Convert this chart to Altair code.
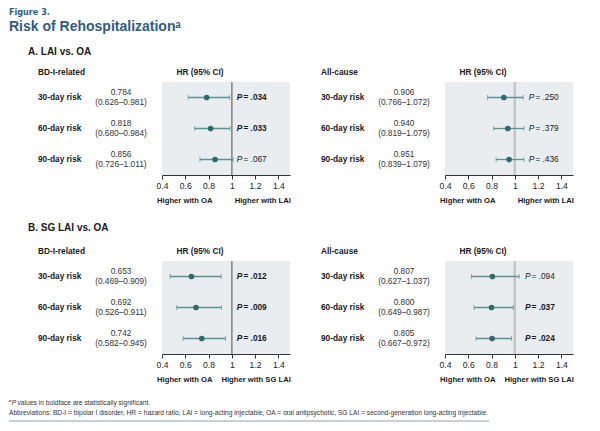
import altair as alt
import pandas as pd

rows = ["30-day risk", "60-day risk", "90-day risk"]
ticks = [0.4, 0.6, 0.8, 1.0, 1.2, 1.4]

# A. LAI vs. OA — BD-I-related
a_bd_hr = [0.784, 0.818, 0.856]
a_bd_lo = [0.626, 0.680, 0.726]
a_bd_hi = [0.981, 0.984, 1.011]
a_bd_p = [".034", ".033", ".067"]
a_bd_sig = [True, True, False]

# A. LAI vs. OA — All-cause
a_all_hr = [0.906, 0.940, 0.951]
a_all_lo = [0.766, 0.819, 0.839]
a_all_hi = [1.072, 1.079, 1.079]
a_all_p = [".250", ".379", ".436"]
a_all_sig = [False, False, False]

# B. SG LAI vs. OA — BD-I-related
b_bd_hr = [0.653, 0.692, 0.742]
b_bd_lo = [0.469, 0.526, 0.582]
b_bd_hi = [0.909, 0.911, 0.945]
b_bd_p = [".012", ".009", ".016"]
b_bd_sig = [True, True, True]

# B. SG LAI vs. OA — All-cause
b_all_hr = [0.807, 0.800, 0.805]
b_all_lo = [0.627, 0.649, 0.667]
b_all_hi = [1.037, 0.987, 0.972]
b_all_p = [".094", ".037", ".024"]
b_all_sig = [False, True, True]

FONT = "Liberation Sans"
BLUE = "#2d5d86"
TEAL = "#2f6b6b"
TEAL_L = "#5e9292"
INK = "#1a1a1a"
W, H = 128, 93
FS = 8.3


def make_df(hr, lo, hi, p, sig):
    return pd.DataFrame({
        "row": rows, "hr": hr, "lo": lo, "hi": hi, "sig": sig,
        "hr_txt": [f"{v:.3f}" for v in hr],
        "ci_txt": [f"({a:.3f}\u2013{b:.3f})" for a, b in zip(lo, hi)],
        "p_txt": [f"= {v}" for v in p],
    })


def label(txt, x, y, size=FS, weight="normal", color=INK, align="left",
          style="normal", font=FONT, baseline="middle"):
    return alt.Chart(pd.DataFrame({"t": [txt]})).mark_text(
        text=txt, fontSize=size, fontWeight=weight, color=color, align=align,
        fontStyle=style, font=font, baseline=baseline,
    ).encode(x=alt.value(x), y=alt.value(y))


xscale = alt.Scale(domain=[0.4, 1.5], nice=False, zero=False)
xaxis = alt.Axis(values=ticks, format=".1~f", title=None,
                 grid=False, labelFont=FONT, labelFontSize=8.6,
                 labelColor="#222", domainColor="#333", tickColor="#333",
                 tickSize=4, labelPadding=2, labelFlush=False,
                 labelOverlap=False)
yenc = alt.Y("row:N", scale=alt.Scale(domain=rows, type="point", padding=0.5),
             axis=None)


def xq(field):
    return alt.X(field, type="quantitative", scale=xscale, axis=xaxis)


def xd(v):
    return alt.datum(v, type="quantitative", scale=xscale, axis=xaxis)


def panel(df, group, right_txt, p_x, ref_color, ref_width, extras):
    base = alt.Chart(df)
    ref = base.mark_rule(color=ref_color, strokeWidth=ref_width).encode(
        x=xd(1.0))
    ci = base.mark_rule(color=TEAL_L, strokeWidth=1.3).encode(
        x=xq("lo"), x2="hi:Q", y=yenc)
    cap_lo = base.mark_tick(color=TEAL_L, size=5, thickness=1).encode(
        x=xq("lo"), y=yenc)
    cap_hi = base.mark_tick(color=TEAL_L, size=5, thickness=1).encode(
        x=xq("hi"), y=yenc)
    pts = base.mark_point(filled=True, size=32, color=TEAL, opacity=1).encode(
        x=xq("hr"), y=yenc)
    row_lbl = base.mark_text(align="left", baseline="middle", fontSize=FS,
                             fontWeight="bold", color=INK, font=FONT).encode(
        x=alt.value(-124), y=yenc, text="row:N")
    hr_t = base.mark_text(align="center", baseline="middle", fontSize=FS,
                          color="#333", dy=-5, font=FONT).encode(
        x=alt.value(-41), y=yenc, text="hr_txt:N")
    ci_t = base.mark_text(align="center", baseline="middle", fontSize=FS,
                          color="#333", dy=5, font=FONT).encode(
        x=alt.value(-41), y=yenc, text="ci_txt:N")
    layers = [ref, ci, cap_lo, cap_hi, pts, row_lbl, hr_t, ci_t]
    for cond, wt in (("datum.sig", "bold"), ("!datum.sig", "normal")):
        sub = base.transform_filter(cond)
        layers.append(sub.mark_text(text="P", align="left", baseline="middle",
                                    fontSize=FS, fontWeight=wt, fontStyle="italic",
                                    color=INK, font=FONT).encode(
            x=xd(p_x), y=yenc))
        layers.append(sub.mark_text(align="left", baseline="middle", dx=6.6,
                                    fontSize=FS, fontWeight=wt, color=INK,
                                    font=FONT).encode(
            x=xd(p_x), y=yenc, text="p_txt:N"))
    layers += [
        label(group, -124, -9, weight="bold"),
        label("HR (95% CI)", 38, -9, weight="bold", align="center"),
        label("Higher with OA", -5, 119, size=7.7, weight="bold"),
        label(right_txt, W + 1, 119, size=7.7, weight="bold", align="right"),
    ]
    layers += extras
    return alt.layer(*layers).properties(width=W, height=H)


header = [
    label("Figure 3.", -153, -74, size=9, weight="bold", color=BLUE,
          font="DejaVu Sans Condensed", baseline="top"),
    label("Risk of Rehospitalization\u1d43", -153, -55, size=14,
          weight="bold", color=BLUE),
    label("A. LAI vs. OA", -134, -30, size=10, weight="bold"),
]
sec_b = [label("B. SG LAI vs. OA", -134, -33, size=10, weight="bold")]
foot = [
    label("\u1d43", -153, 140.5, size=6.7, color="#333"),
    label("P", -150.2, 142, size=6.7, style="italic", color="#333"),
    label("values in boldface are statistically significant.", -144.5, 142,
          size=6.7, color="#333"),
    label("Abbreviations: BD-I = bipolar I disorder, HR = hazard ratio, "
          "LAI = long-acting injectable, OA = oral antipsychotic, "
          "SG LAI = second-generation long-acting injectable.",
          -153, 152, size=6.65, color="#333"),
    alt.Chart(pd.DataFrame({"t": [0]})).mark_rule(
        color="#8fa0b0", strokeWidth=1).encode(
        x=alt.value(-153), x2=alt.value(327), y=alt.value(160)),
]

pA1 = panel(make_df(a_bd_hr, a_bd_lo, a_bd_hi, a_bd_p, a_bd_sig),
            "BD-I-related", "Higher with LAI", 1.043, "#8c8c8c", 1, header)
pA2 = panel(make_df(a_all_hr, a_all_lo, a_all_hi, a_all_p, a_all_sig),
            "All-cause", "Higher with LAI", 1.12, "#c4c4c4", 2, [])
pB1 = panel(make_df(b_bd_hr, b_bd_lo, b_bd_hi, b_bd_p, b_bd_sig),
            "BD-I-related", "Higher with SG LAI", 1.043, "#8c8c8c", 1,
            sec_b + foot)
pB2 = panel(make_df(b_all_hr, b_all_lo, b_all_hi, b_all_p, b_all_sig),
            "All-cause", "Higher with SG LAI", 1.087, "#c4c4c4", 2, [])

chart = alt.concat(pA1, pA2, pB1, pB2, columns=2,
                   spacing={"row": 86, "column": 155}, bounds="flush").properties(
    padding=0, background="white"
).configure_view(stroke=None, fill="#e9edf0").configure_text(font=FONT)

chart.save("out.html", embed_options={"renderer": "svg", "actions": False})
